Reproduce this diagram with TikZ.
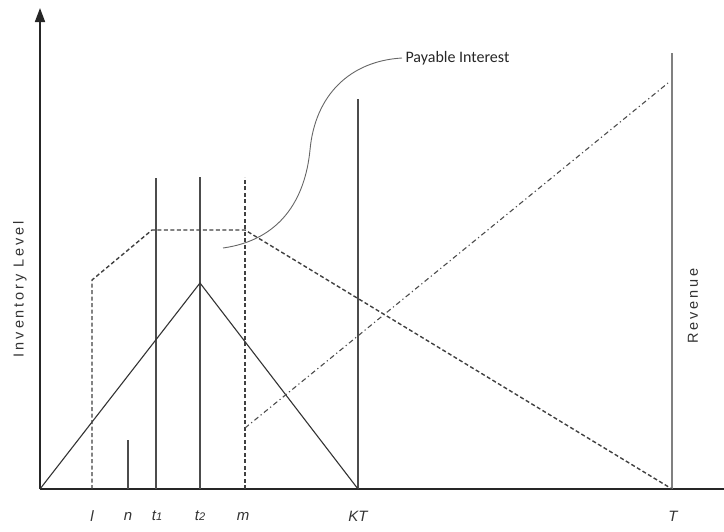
\documentclass[tikz,border=0pt]{standalone}
\usepackage{fontspec}
\setmainfont{Liberation Sans}
\newfontfamily\labfont{Carlito}
\usepackage{tikz}
\usetikzlibrary{arrows.meta, positioning, calc}

\begin{document}
\begin{tikzpicture}[x=1pt, y=-1pt]

% ---- Styles -----------------------------------------------------------------
\tikzset{
  axis/.style={line width=1.6pt, black!85},
  tick/.style={line width=1.1pt, black!70},
  dashln/.style={line width=1.4pt, black!75, dash pattern=on 4pt off 2.5pt},
  dotln/.style={line width=1.1pt, black!70, dash pattern=on 5pt off 3pt on 1.2pt off 3pt},
  stock/.style={line width=1.1pt, black!80},
  tlab/.style={font=\fontsize{15}{17}\selectfont\itshape, text=black!80},
  ylab/.style={font=\fontsize{14.5}{16}\selectfont\addfontfeature{LetterSpace=20}, text=black!80, rotate=90},
}

\def\YB{489}  % x-axis level
\def\YL{516}  % tick label level

\useasboundingbox (0,0) rectangle (724,531);

% ---- Axes ------------------------------------------------------------------
\coordinate (O) at (40,\YB);
\coordinate (ytop) at (40,8);
\coordinate (xend) at (724,\YB);
\draw[axis, -{Triangle[length=14pt, width=10pt]}] (O) -- (ytop);
\draw[axis] (O) -- (xend);

% ---- Time marks --------------------------------------------------------------
\coordinate (l) at (92,\YB);
\coordinate (n) at (128,\YB);
\coordinate (t1) at (156,\YB);
\coordinate (t2) at (200,\YB);
\coordinate (m) at (245,\YB);
\coordinate (KT) at (358,\YB);
\coordinate (T) at (672,\YB);

\draw[tick] (n) -- (128,440);
\draw[tick] (t1) -- (156,178);
\draw[tick] (t2) -- (200,177);
\draw[tick] (KT) -- (358,99);
\draw[tick, black!50] (T) -- (672,53);
\draw[dashln] (m) -- (245,177);

% ---- Inventory (solid) and stock with interest (dashed) -----------------------
\coordinate (peak) at (200,283);
\draw[stock] (O) -- (peak) -- (KT);

\coordinate (lup) at (92,280);
\coordinate (h1) at (152,230);
\coordinate (h2) at (245,230);
\draw[dashln] (l) -- (lup) -- (h1) -- (h2) -- (T);

% ---- Revenue (dash-dot) -----------------------------------------------------
\coordinate (r0) at (245,428);
\coordinate (r1) at (668,83);
\draw[dotln] (r0) -- (r1);

% ---- Payable interest pointer ----------------------------------------------
\node[font=\labfont\fontsize{16}{18}\selectfont, anchor=west, text=black!85]
  (pay) at (402,58) {Payable Interest};
\coordinate (pstart) at (223,248);
\coordinate (pmid) at (310,150);
\draw[line width=0.9pt, black!60] (pstart) .. controls (280,240) and (305,200) .. (pmid)
  .. controls (315,95) and (350,61) .. (pay.west);

% ---- Labels ------------------------------------------------------------------
\node[tlab] (labl) at (92,\YL) {l};
\node[tlab] (labn) at (128,\YL) {n};
\node[tlab] (labt1) at (157,\YL) {t{\fontsize{11}{12}\selectfont 1}};
\node[tlab] (labt2) at (200,\YL) {t{\fontsize{11}{12}\selectfont 2}};
\node[tlab] (labm) at (243,\YL) {m};
\node[tlab] (labKT) at (358,\YL) {KT};
\node[tlab] (labT) at (673,\YL) {T};

\node[ylab] (inv) at (20,289) {Inventory Level};
\node[ylab] (rev) at (693,306) {Revenue};

\end{tikzpicture}
\end{document}
